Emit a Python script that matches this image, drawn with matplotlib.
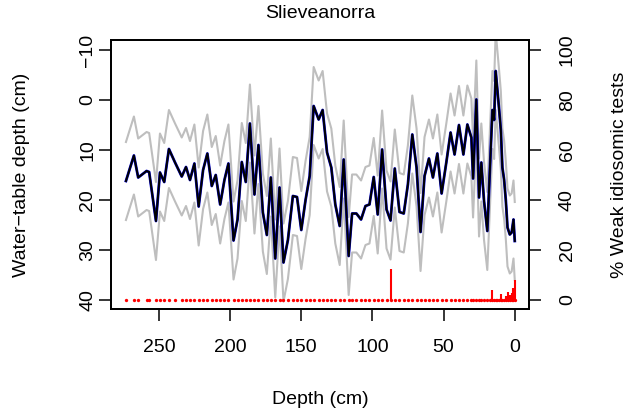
import matplotlib
matplotlib.use("Agg")
import matplotlib.pyplot as plt
import numpy as np

plt.rcParams['font.family'] = ['Liberation Sans', 'DejaVu Sans']

title = "Slieveanorra"
xlabel = "Depth (cm)"
ylabel_left = "Water\u2212table depth (cm)"
ylabel_right = "% Weak idiosomic tests"

depth = [273.2, 267.6, 264.6, 258.7, 256.9, 252.1, 249.3, 246.3, 243.0, 238.7,
         234.0, 231.0, 228.2, 225.1, 222.1, 219.0, 216.0, 212.9, 210.1, 207.0,
         204.0, 201.2, 197.6, 194.8, 191.8, 189.0, 186.1, 182.9, 180.1, 177.0,
         174.2, 171.4, 168.3, 165.3, 162.5, 159.4, 155.9, 153.0, 150.0, 147.0,
         144.1, 141.3, 137.8, 135.0, 131.9, 128.9, 126.1, 123.0, 120.2, 116.7,
         114.3, 111.3, 108.0, 104.9, 102.1, 99.1, 96.3, 93.2, 90.1, 87.3,
         84.3, 81.0, 78.0, 75.1, 72.0, 69.0, 66.2, 63.4, 60.3, 57.5,
         54.4, 51.4, 48.1, 45.1, 42.3, 39.2, 36.1, 33.3, 30.5, 29.3,
         27.0, 25.1, 23.5, 21.6, 19.3, 17.5, 15.7, 14.5, 13.4, 12.2,
         11.0, 9.8, 8.7, 7.5, 6.3, 5.1, 3.5, 2.2, 0.9, 0.0]

wtd = [16.2, 11.1, 15.5, 14.2, 14.4, 24.2, 14.5, 16.4, 9.8, 12.5,
       15.3, 13.4, 16.0, 12.7, 21.3, 14.0, 10.7, 17.2, 15.0, 20.9,
       16.0, 12.7, 28.1, 23.9, 12.4, 16.4, 4.7, 18.9, 9.0, 22.5,
       27.0, 15.5, 31.7, 17.5, 32.5, 28.0, 19.2, 19.4, 26.0, 20.0,
       15.2, 1.2, 3.9, 2.0, 10.5, 13.5, 20.9, 25.2, 11.9, 31.2,
       22.7, 22.7, 23.9, 21.2, 20.9, 15.4, 22.9, 9.9, 21.9, 24.1,
       13.7, 22.4, 22.7, 16.9, 6.9, 13.5, 26.4, 15.2, 11.7, 15.5,
       10.7, 18.7, 12.5, 6.5, 10.9, 5.0, 10.9, 4.9, 7.5, 15.7,
       -0.1, 19.5, 12.5, 20.2, 26.2, 14.0, 2.0, 4.0, -5.8, -2.0,
       1.9, 6.0, 13.5, 15.9, 20.0, 25.5, 26.9, 26.5, 23.9, 28.2]

rmsep = 7.8

pct_weak = ([0]*59 + [12.3] + [0]*26 + [4.0] +
            [0, 0, 0, 0, 2.5, 0, 0, 1.5, 3.2, 2.0, 3.0, 5.0, 8.0])

xticks = [250, 200, 150, 100, 50, 0]
yticks_left = [-10, 0, 10, 20, 30, 40]
yticks_right = [0, 20, 40, 60, 80, 100]

depth_a = np.array(depth)
wtd_a = np.array(wtd)
pct_a = np.array(pct_weak)

W, H = 641, 419
fig = plt.figure(figsize=(W/100, H/100), dpi=100)
L, R, T, B = 111, 529, 40, 309
ax = fig.add_axes([L/W, 1 - B/H, (R-L)/W, (B-T)/H])

ax.plot(depth_a, wtd_a - rmsep, color='#BEBEBE', lw=1.5, zorder=1)
ax.plot(depth_a, wtd_a + rmsep, color='#BEBEBE', lw=1.5, zorder=1)
ax.plot(depth_a, wtd_a, color='#0000CD', lw=2.0, zorder=2)
ax.plot(depth_a, wtd_a, color='black', lw=1.4, zorder=3)

ax.set_xlim(283.7, -10.0)
ax.set_ylim(41.8, -12.0)
ax.set_xticks(xticks)
ax.set_yticks(yticks_left)
ax.set_yticklabels(["\u221210" if v < 0 else str(v) for v in yticks_left])
for lab in ax.get_yticklabels():
    lab.set_rotation(90)
    lab.set_va('center')
ax.tick_params(axis='both', direction='out', length=8.5, width=1.1, labelsize=14)
ax.tick_params(axis='x', pad=13)
ax.tick_params(axis='y', pad=2)
for s in ax.spines.values():
    s.set_linewidth(1.3)

ax2 = ax.twinx()
ax2.set_ylim(-3.6, 104.0)
ax2.vlines(depth_a, 0, pct_a, color='red', lw=1.5, zorder=4)
dots, = ax2.plot(depth_a, np.zeros_like(depth_a), linestyle='none', marker='o',
                 markersize=2.4, color='red', markeredgewidth=0, zorder=4)
dots.set_snap(False)
ax2.set_yticks(yticks_right)
for lab in ax2.get_yticklabels():
    lab.set_rotation(90)
    lab.set_va('center')
ax2.tick_params(axis='y', direction='out', length=8.5, width=1.1, labelsize=14, pad=13)
for s in ax2.spines.values():
    s.set_linewidth(1.3)

fig.text(320/W, 1 - 13/H, title, ha='center', va='center', fontsize=14)
fig.text(320/W, 1 - 399/H, xlabel, ha='center', va='center', fontsize=14)
fig.text(22/W, 1 - 175/H, ylabel_left, ha='center', va='center', rotation=90, fontsize=14)
fig.text(620/W, 1 - 175/H, ylabel_right, ha='center', va='center', rotation=90, fontsize=14)

fig.savefig("out.png", dpi=100)
